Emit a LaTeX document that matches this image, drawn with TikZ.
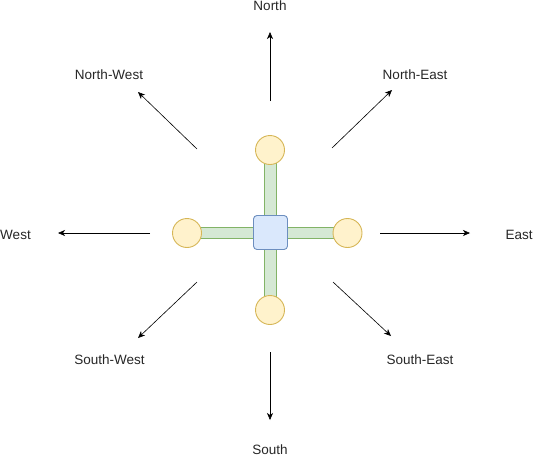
\documentclass[tikz,border=0pt]{standalone}
\usepackage{fontspec}
\setmainfont{Liberation Sans}
\usetikzlibrary{arrows.meta}
\definecolor{yfill}{HTML}{FFF2CC}
\definecolor{ydraw}{HTML}{D6B656}
\definecolor{gfill}{HTML}{D5E8D4}
\definecolor{gdraw}{HTML}{82B366}
\definecolor{bfill}{HTML}{DAE8FC}
\definecolor{bdraw}{HTML}{6C8EBF}
\tikzset{
  wheel/.style={circle, draw=ydraw, fill=yfill, line width=0.9pt, minimum size=29pt, inner sep=0pt},
  hub/.style={rectangle, rounded corners=3.5pt, draw=bdraw, fill=bfill, line width=0.9pt, minimum size=34pt, inner sep=0pt},
  bar/.style={draw=gdraw, fill=gfill, line width=0.9pt},
  lbl/.style={font=\fontsize{13.5}{16}\selectfont, text=black!85, inner sep=0pt, anchor=center},
  dirarrow/.style={draw=black, line width=0.6pt, -{Stealth[length=7pt,width=6pt,inset=2pt]}}
}
\begin{document}
\begin{tikzpicture}[x=1pt,y=-1pt]
\useasboundingbox (0,0) rectangle (534,456);
% bars
\draw[bar] (264.5,150) rectangle (276.5,310);
\draw[bar] (187,227.5) rectangle (348,238.5);
% hub and wheels
\node[hub] (hub) at (270.5,232.5) {};
\node[wheel] (wn) at (270,150) {};
\node[wheel] (ws) at (270,310) {};
\node[wheel] (ww) at (187,233) {};
\node[wheel] (we) at (347.5,233) {};
% labels
\node[lbl] (N) at (270,5.5) {North};
\node[lbl] (NW) at (109,74.5) {North-West};
\node[lbl] (NE) at (415,74.5) {North-East};
\node[lbl] (W) at (15.5,235) {West};
\node[lbl] (E) at (519,235) {East};
\node[lbl] (SW) at (109.5,360) {South-West};
\node[lbl] (SE) at (420,360) {South-East};
\node[lbl] (S) at (270,449.5) {South};
% arrow coordinates
\coordinate (n0) at (270,101); \coordinate (n1) at (270,32);
\coordinate (nw0) at (197,149); \coordinate (nw1) at (138,92);
\coordinate (ne0) at (332,148); \coordinate (ne1) at (392,90);
\coordinate (w0) at (150,233); \coordinate (w1) at (58,233);
\coordinate (e0) at (380,233); \coordinate (e1) at (470,233);
\coordinate (sw0) at (197,282); \coordinate (sw1) at (138,338);
\coordinate (se0) at (333,282); \coordinate (se1) at (391,336);
\coordinate (s0) at (270,352); \coordinate (s1) at (270,420);
\draw[dirarrow] (n0) -- (n1);
\draw[dirarrow] (nw0) -- (nw1);
\draw[dirarrow] (ne0) -- (ne1);
\draw[dirarrow] (w0) -- (w1);
\draw[dirarrow] (e0) -- (e1);
\draw[dirarrow] (sw0) -- (sw1);
\draw[dirarrow] (se0) -- (se1);
\draw[dirarrow] (s0) -- (s1);
\end{tikzpicture}
\end{document}
